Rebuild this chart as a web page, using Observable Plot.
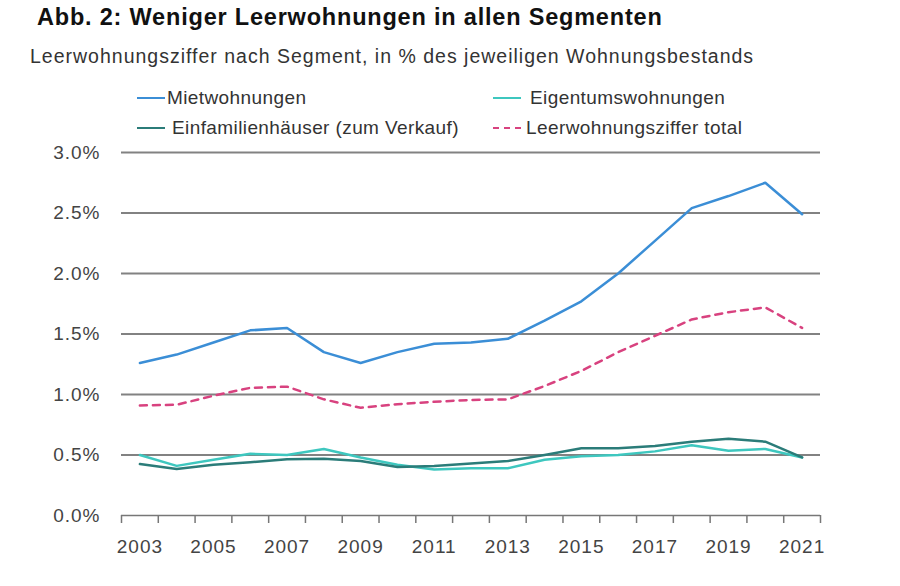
<!DOCTYPE html>
<html>
<head>
<meta charset="utf-8">
<script src="https://cdn.jsdelivr.net/npm/d3@7"></script>
<script src="https://cdn.jsdelivr.net/npm/@observablehq/plot@0.6"></script>
<style>
  body { margin: 0; background: #fff; font-family: "Liberation Sans", Arial, sans-serif; color: #333; }
  #wrap { position: relative; width: 900px; height: 586px; overflow: hidden; }
  .t { position: absolute; white-space: nowrap; }
  #title { left: 37px; top: 4px; font-size: 23.5px; letter-spacing: 0.8px; font-weight: bold; color: #111; }
  #subtitle { left: 30px; top: 45px; font-size: 19.5px; letter-spacing: 1px; color: #333; }
  .leg { position: absolute; font-size: 19px; letter-spacing: 0.4px; color: #333; white-space: nowrap; display: flex; align-items: center; }
  .sw { display: inline-block; width: 28px; height: 0; margin-right: 2px; }
  #chart { position: absolute; left: 0; top: 140px; }
</style>
</head>
<body>
<div id="wrap">
  <div id="title" class="t">Abb. 2: Weniger Leerwohnungen in allen Segmenten</div>
  <div id="subtitle" class="t">Leerwohnungsziffer nach Segment, in % des jeweiligen Wohnungsbestands</div>
  <div id="legend"></div>
  <div id="chart"></div>
</div>
<script>
const years = [2003,2004,2005,2006,2007,2008,2009,2010,2011,2012,2013,2014,2015,2016,2017,2018,2019,2020,2021];
const mietwohnungen = [1.26,1.33,1.43,1.53,1.55,1.35,1.26,1.35,1.42,1.43,1.46,1.61,1.77,2.0,2.27,2.54,2.64,2.75,2.49];
const eigentumswohnungen = [0.50,0.41,0.46,0.51,0.50,0.55,0.48,0.42,0.38,0.39,0.39,0.46,0.49,0.50,0.53,0.58,0.535,0.55,0.48];
const einfamilienhaeuser = [0.425,0.385,0.42,0.44,0.465,0.47,0.45,0.40,0.41,0.43,0.45,0.50,0.555,0.555,0.575,0.61,0.635,0.61,0.48];
const total = [0.91,0.915,0.99,1.055,1.065,0.96,0.89,0.92,0.94,0.955,0.96,1.07,1.195,1.35,1.485,1.62,1.68,1.72,1.55];
const yTicks = [0, 0.5, 1.0, 1.5, 2.0, 2.5, 3.0];
const xLabels = [2003,2005,2007,2009,2011,2013,2015,2017,2019,2021];
const seriesNames = ["Mietwohnungen","Eigentumswohnungen","Einfamilienhäuser (zum Verkauf)","Leerwohnungsziffer total"];
const seriesColors = ["#3b8ed6","#3ec7bf","#2b7c79","#d8427f"];

const rows = [];
const seriesVals = [mietwohnungen, eigentumswohnungen, einfamilienhaeuser, total];
seriesNames.forEach((name, i) => {
  years.forEach((yr, j) => rows.push({series: name, year: yr, value: seriesVals[i][j]}));
});
const solid = rows.filter(d => d.series !== seriesNames[3]);
const dashed = rows.filter(d => d.series === seriesNames[3]);

// Legend
const legPos = [[137, 87],[493, 87],[137, 117],[493, 117]];
const gaps = [2, 9, 7, 5];
const legend = document.getElementById("legend");
seriesNames.forEach((name, i) => {
  const el = document.createElement("div");
  el.className = "leg";
  el.style.left = legPos[i][0] + "px";
  el.style.top = legPos[i][1] + "px";
  const sw = document.createElement("span");
  sw.className = "sw";
  sw.style.borderTop = (i === 3 ? "2.5px dashed " : "2.5px solid ") + seriesColors[i];
  sw.style.marginRight = gaps[i] + "px";
  el.appendChild(sw);
  el.appendChild(document.createTextNode(name));
  legend.appendChild(el);
});

const boundaries = d3.range(2002.5, 2022, 1);

const chart = Plot.plot({
  width: 900,
  height: 446,
  marginLeft: 121,
  marginRight: 80,
  marginTop: 12,
  marginBottom: 71,
  style: { fontFamily: "Liberation Sans, Arial, sans-serif", fontSize: "19px", letterSpacing: "1px", color: "#444", background: "white" },
  x: { domain: [2002.5, 2021.5] },
  y: { domain: [0, 3] },
  color: { domain: seriesNames, range: seriesColors },
  marks: [
    Plot.ruleY(yTicks.filter(d => d > 0), { stroke: "#828282", strokeWidth: 2 }),
    Plot.ruleY([0], { stroke: "#777", strokeWidth: 1.5 }),
    Plot.axisY({ ticks: yTicks, tickSize: 0, tickPadding: 21, tickFormat: d => d.toFixed(1) + "%", label: null, fontSize: 19, fill: "#444" }),
    Plot.axisX({ ticks: boundaries, tickSize: 8, tickFormat: () => "", label: null, stroke: "#777", strokeWidth: 1.5 }),
    Plot.axisX({ ticks: xLabels, tickSize: 0, tickPadding: 24, tickFormat: d => String(d), label: null, fontSize: 19, fill: "#444" }),
    Plot.line(solid, { x: "year", y: "value", z: "series", stroke: "series", strokeWidth: 2.5 }),
    Plot.line(dashed, { x: "year", y: "value", stroke: "series", strokeWidth: 2.5, strokeDasharray: "7,6" })
  ]
});
document.getElementById("chart").appendChild(chart);
</script>
</body>
</html>
